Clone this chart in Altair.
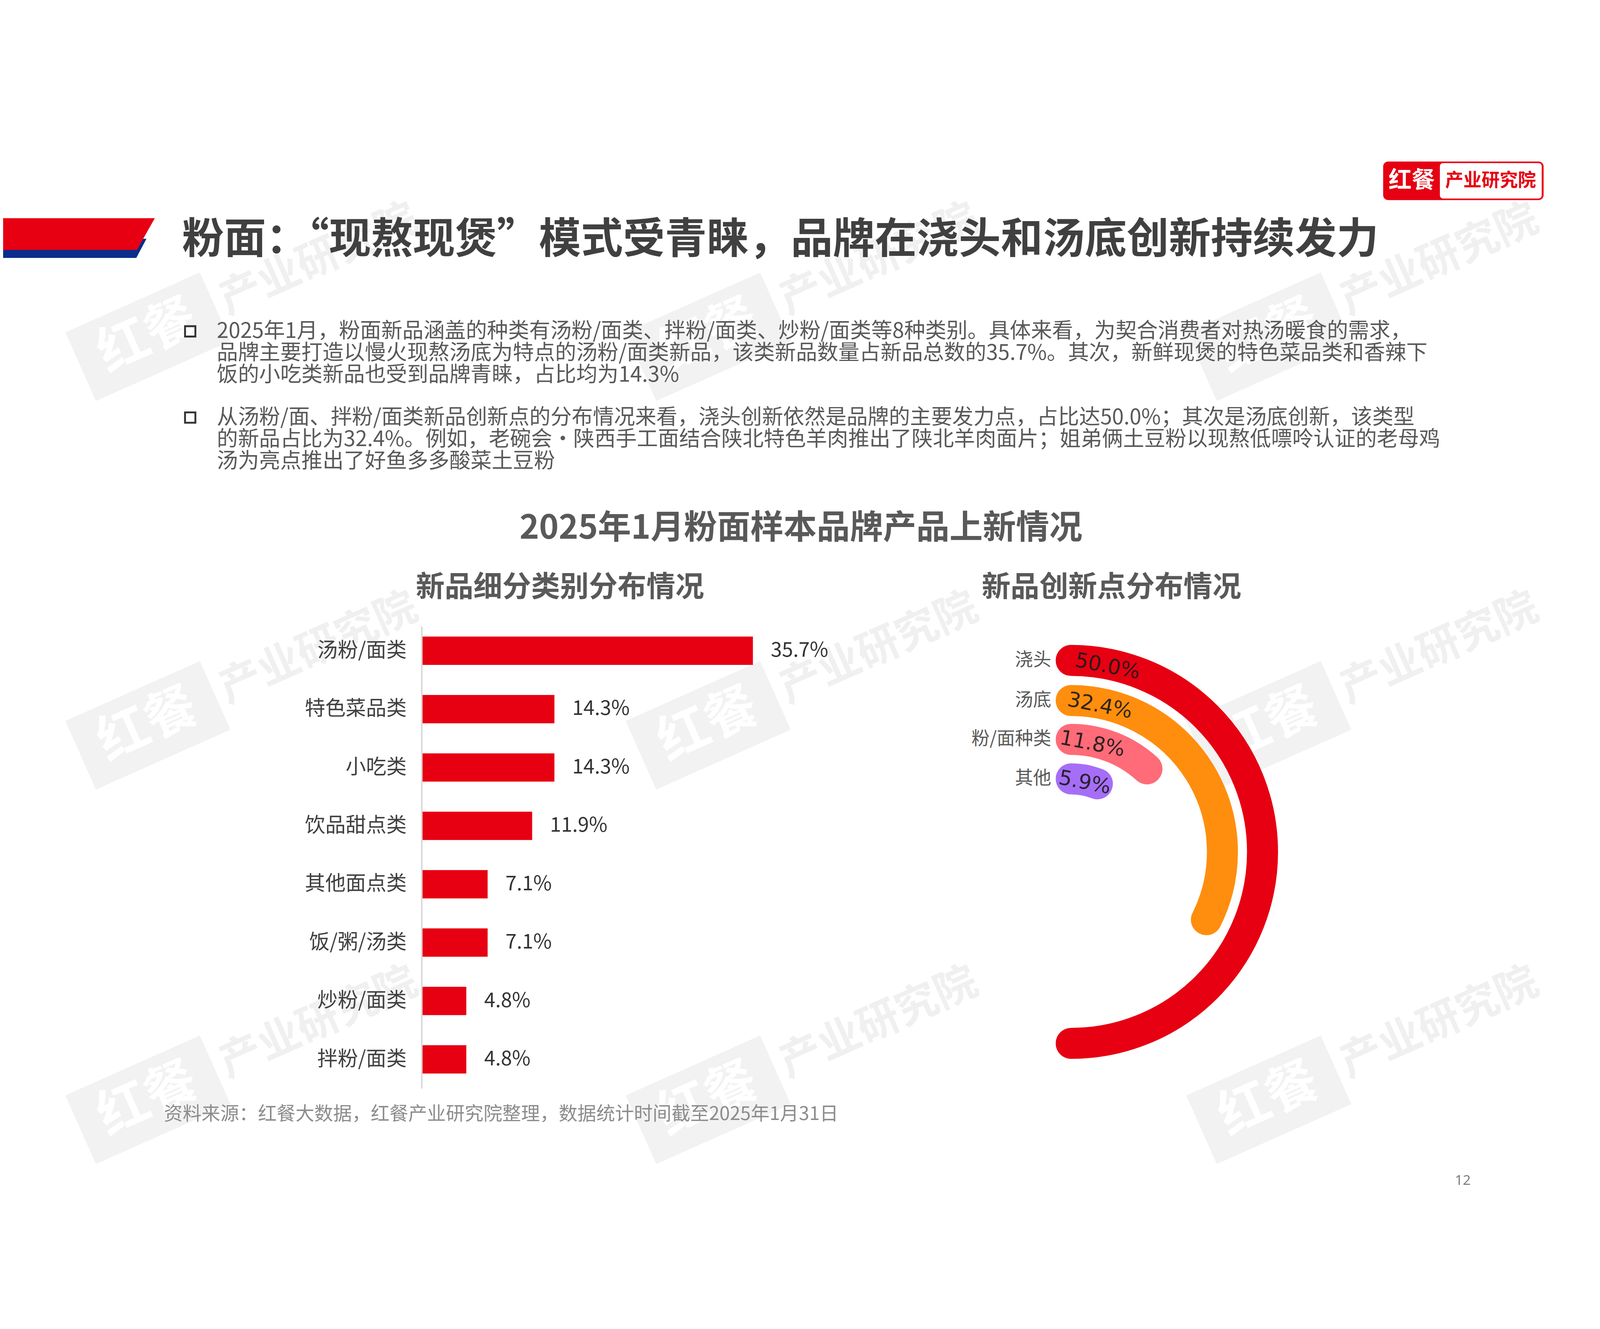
import altair as alt
import pandas as pd

# ---------------- data ----------------
bar_cats = ["汤粉/面类", "特色菜品类", "小吃类", "饮品甜点类", "其他面点类", "饭/粥/汤类", "炒粉/面类", "拌粉/面类"]
bar_vals = [35.7, 14.3, 14.3, 11.9, 7.1, 7.1, 4.8, 4.8]

innov_cats = ["浇头", "汤底", "粉/面种类", "其他"]
innov_vals = [50.0, 32.4, 11.8, 5.9]

page_title = "粉面：“现熬现煲”模式受青睐，品牌在浇头和汤底创新持续发力"
para1 = [
    "2025年1月，粉面新品涵盖的种类有汤粉/面类、拌粉/面类、炒粉/面类等8种类别。具体来看，为契合消费者对热汤暖食的需求，",
    "品牌主要打造以慢火现熬汤底为特点的汤粉/面类新品，该类新品数量占新品总数的35.7%。其次，新鲜现煲的特色菜品类和香辣下",
    "饭的小吃类新品也受到品牌青睐，占比均为14.3%",
]
para2 = [
    "从汤粉/面、拌粉/面类新品创新点的分布情况来看，浇头创新依然是品牌的主要发力点，占比达50.0%；其次是汤底创新，该类型",
    "的新品占比为32.4%。例如，老碗会·陕西手工面结合陕北特色羊肉推出了陕北羊肉面片；姐弟俩土豆粉以现熬低嘌呤认证的老母鸡",
    "汤为亮点推出了好鱼多多酸菜土豆粉",
]
chart_title = "2025年1月粉面样本品牌产品上新情况"
sub_left = "新品细分类别分布情况"
sub_right = "新品创新点分布情况"
source_text = "资料来源：红餐大数据，红餐产业研究院整理，数据统计时间截至2025年1月31日"
page_no = "12"
logo_left = "红餐"
logo_right = "产业研究院"

# ---------------- style / layout ----------------
M = 8  # page margin


def px(v):
    return v - M


CJK = "Noto Sans CJK SC"
RED = "#E60012"
BLUE = "#0A2D8C"
ring_colors = ["#E60012", "#FF8E0E", "#FF6B78", "#A66EF7"]
ring_radius = [611, 483, 359, 233]
ring_width = 98
CX, CY = px(3416), px(2299)
LINE_H = 70

one = pd.DataFrame({"d": [0]})
bar_df = pd.DataFrame({"cat": bar_cats, "val": bar_vals})
innov_df = pd.DataFrame({"cat": innov_cats, "val": innov_vals})

layers = []


def text_layer(txt, x, y, **kw):
    return alt.Chart(one).mark_text(**kw).encode(
        x=alt.value(px(x)), y=alt.value(px(y)), text=alt.value(txt)
    )


# ---------------- watermarks ----------------
wm_cols = [470, 2258, 4047]
wm_rows = [655, 1895, 3090]
box_shape = "M-1,-0.51 L1,-0.51 L1,0.51 L-1,0.51 Z"
for wx in wm_cols:
    for wy in wm_rows:
        layers.append(
            alt.Chart(one).mark_point(shape=box_shape, filled=True, size=470 ** 2, angle=336,
                                      color="#f2f2f2", opacity=1, strokeWidth=0)
            .encode(x=alt.value(px(wx)), y=alt.value(px(wy)))
        )
        layers.append(text_layer(logo_left, wx, wy, font=CJK, fontSize=165, fontWeight="bold",
                                 color="#ffffff", angle=336, align="center", baseline="middle"))
        layers.append(text_layer(logo_right, wx + 545, wy - 245, font=CJK, fontSize=135, fontWeight="bold",
                                 color="#f0f0f0", angle=336, align="center", baseline="middle"))

# ---------------- header banner ----------------
blue_shape = "M-1,-0.126 L0.890,-0.126 L0.756,0.126 L-1,0.126 Z"
red_shape = "M-1,-0.2093 L1,-0.2093 L0.7642,0.2093 L-1,0.2093 Z"
layers.append(
    alt.Chart(one).mark_point(shape=blue_shape, filled=True, size=484 ** 2, color=BLUE, opacity=1, strokeWidth=0)
    .encode(x=alt.value(242), y=alt.value(px(373)))
)
layers.append(
    alt.Chart(one).mark_point(shape=red_shape, filled=True, size=484 ** 2, color=RED, opacity=1, strokeWidth=0)
    .encode(x=alt.value(242), y=alt.value(px(327.5)))
)

layers.append(text_layer(page_title, 579, 348, font=CJK, fontSize=134, fontWeight="bold",
                         color="#404040", align="left", baseline="middle"))

# ---------------- logo ----------------
layers.append(
    alt.Chart(one).mark_rect(color=RED, cornerRadius=16)
    .encode(x=alt.value(px(4412)), x2=alt.value(px(4924)), y=alt.value(px(96)), y2=alt.value(px(219)))
)
layers.append(
    alt.Chart(one).mark_rect(color="#ffffff", cornerRadius=10)
    .encode(x=alt.value(px(4593)), x2=alt.value(px(4918)), y=alt.value(px(101)), y2=alt.value(px(214)))
)
layers.append(text_layer(logo_left, 4503, 158, font=CJK, fontSize=74, fontWeight="bold",
                         color="#ffffff", align="center", baseline="middle"))
layers.append(text_layer(logo_right, 4755, 158, font=CJK, fontSize=58, fontWeight="bold",
                         color=RED, align="center", baseline="middle"))

# ---------------- bullet paragraphs (one multi-line text each) ----------------
for by, para in [(638, para1), (913, para2)]:
    layers.append(
        alt.Chart(one).mark_point(shape="square", filled=False, size=33 ** 2, color="#333333",
                                  strokeWidth=6, opacity=1)
        .encode(x=alt.value(px(605)), y=alt.value(px(by)))
    )
    layers.append(text_layer(para, 690, by + 21, font=CJK, fontSize=67.5, color="#595959",
                             align="left", baseline="alphabetic", lineHeight=LINE_H))

# ---------------- chart titles ----------------
layers.append(text_layer(chart_title, 2554, 1268, font=CJK, fontSize=106, fontWeight="bold",
                         color="#595959", align="center", baseline="middle"))
layers.append(text_layer(sub_left, 1785, 1456, font=CJK, fontSize=92, fontWeight="bold",
                         color="#595959", align="center", baseline="middle"))
layers.append(text_layer(sub_right, 3545, 1456, font=CJK, fontSize=92, fontWeight="bold",
                         color="#595959", align="center", baseline="middle"))

# ---------------- bar chart ----------------
ybar = alt.Y("cat:N", sort=bar_cats, axis=None,
             scale=alt.Scale(range=[px(1564), px(3054)], paddingInner=0.515, paddingOuter=0.2575))
xscale = alt.Scale(domain=[0, 36], range=[px(1344), px(1344) + 36 * 29.6])
xbar = alt.X("val:Q", axis=None, scale=xscale)
xzero = alt.X("zero:Q", axis=None, scale=xscale)

layers.append(
    alt.Chart(bar_df).mark_bar(color=RED).encode(x=xbar, y=ybar)
)
layers.append(
    alt.Chart(one).transform_calculate(zero="0")
    .mark_rule(color="#d9d9d9", strokeWidth=5)
    .encode(x=xzero, y=alt.value(px(1580)), y2=alt.value(px(3054)))
)
layers.append(
    alt.Chart(bar_df).transform_calculate(zero="0")
    .mark_text(font=CJK, fontSize=65, color="#404040", align="right", baseline="middle", dx=-48)
    .encode(x=xzero, y=ybar, text="cat:N")
)
layers.append(
    alt.Chart(bar_df).transform_calculate(label="format(datum.val, '.1f') + '%'")
    .mark_text(font=CJK, fontSize=64, color="#333333", align="left", baseline="middle", dx=57)
    .encode(x=xbar, y=ybar, text="label:N")
)

# ---------------- radial bars ----------------
theta_scale = alt.Scale(domain=[0, 100], range=[0, 6.283185307179586])
for i, cat in enumerate(innov_cats):
    r = ring_radius[i]
    col = ring_colors[i]
    base = alt.Chart(innov_df).transform_filter(alt.datum.cat == cat)
    layers.append(
        base.mark_arc(radius=r + 0.5, radius2=r - 0.5, color=col, stroke=col,
                      strokeWidth=ring_width, strokeJoin="round")
        .encode(theta=alt.Theta("val:Q", scale=theta_scale, stack=True),
                x=alt.value(CX), y=alt.value(CY))
    )
    layers.append(
        base.transform_calculate(label="format(datum.val, '.1f') + '%'")
        .mark_text(font="DejaVu Sans", fontSize=66, color="#1a1a1a", opacity=0.9,
                   radius=r - 8, theta=0.195, angle=11, align="center", baseline="middle")
        .encode(x=alt.value(CX), y=alt.value(CY), text="label:N")
    )
    layers.append(
        base.mark_text(font=CJK, fontSize=58, color="#595959", radius=r, theta=0,
                       align="right", baseline="middle", dx=-63)
        .encode(x=alt.value(CX), y=alt.value(CY), text="cat:N")
    )

# ---------------- footer ----------------
layers.append(text_layer(source_text, 521, 3136, font=CJK, fontSize=60, color="#8c8c8c",
                         align="left", baseline="middle"))
layers.append(text_layer(page_no, 4666, 3349, font="Noto Sans", fontSize=44, color="#808080",
                         align="center", baseline="middle"))

chart = (
    alt.layer(*layers)
    .properties(width=5086, height=3386,
                autosize=alt.AutoSizeParams(type="none"),
                padding=0, background="white")
    .configure_view(strokeWidth=0)
)

chart.save("out.html", embed_options={"renderer": "svg", "actions": False})
